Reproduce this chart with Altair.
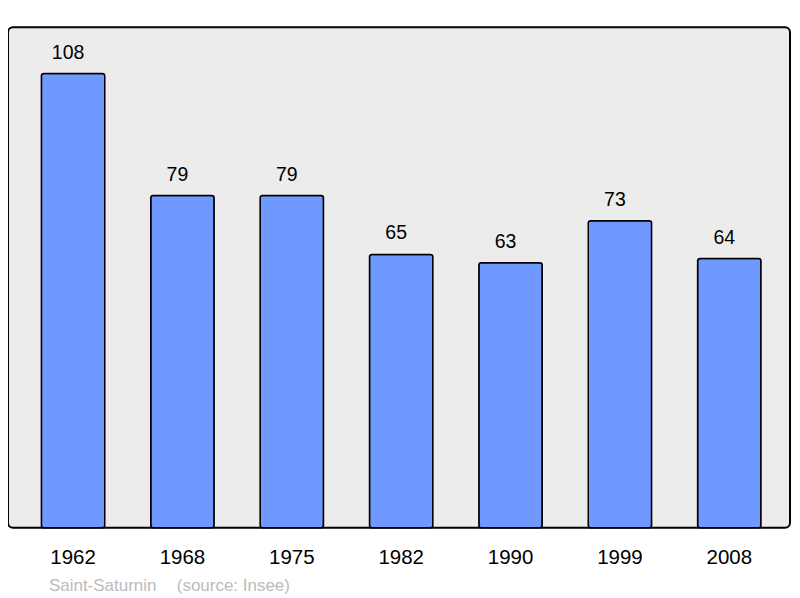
import altair as alt
import pandas as pd

years = ["1962", "1968", "1975", "1982", "1990", "1999", "2008"]
population = [108, 79, 79, 65, 63, 73, 64]
footer_texts = ["Saint-Saturnin", "(source: Insee)"]
footer_x = [41, 169]

df = pd.DataFrame({"year": years, "pop": population})
foot = pd.DataFrame({"t": footer_texts, "px": footer_x})

FONT = "Liberation Sans"

x = alt.X(
    "year:N",
    sort=years,
    scale=alt.Scale(paddingInner=0.4206, paddingOuter=0.2853, align=0.535),
    axis=alt.Axis(
        title=None, ticks=False, domain=False, labelAngle=0,
        labelFontSize=20.5, labelFont=FONT, labelColor="#000000",
        labelBaseline="alphabetic", labelPadding=36,
    ),
)
y = alt.Y("pop:Q", scale=alt.Scale(domain=[0, 119], nice=False, zero=True), axis=None)

bars = alt.Chart(df).mark_bar(
    color="#7099ff", stroke="#000000", strokeWidth=1.5, cornerRadius=2.5
).encode(x=x, y=y)

labels = alt.Chart(df).mark_text(
    font=FONT, fontSize=19.5, color="#000000", baseline="alphabetic", dy=-15, dx=-5
).encode(x=x, y=y, text="pop:Q")

footer = alt.Chart(foot).mark_text(
    font=FONT, fontSize=17, color="#bbbbbb", align="left", baseline="alphabetic"
).encode(x=alt.X("px:Q", scale=None), y=alt.value(564), text="t:N")

chart = alt.layer(bars, labels, footer).properties(
    width=783, height=501,
    padding={"left": 0, "top": 19, "right": 2, "bottom": 70},
    autosize=alt.AutoSizeParams(type="none"),
    background="#ffffff",
).configure_view(
    fill="#ececec", stroke="#000000", strokeWidth=2, cornerRadius=5
)

chart.save("out.html", embed_options={"renderer": "svg", "actions": False})
